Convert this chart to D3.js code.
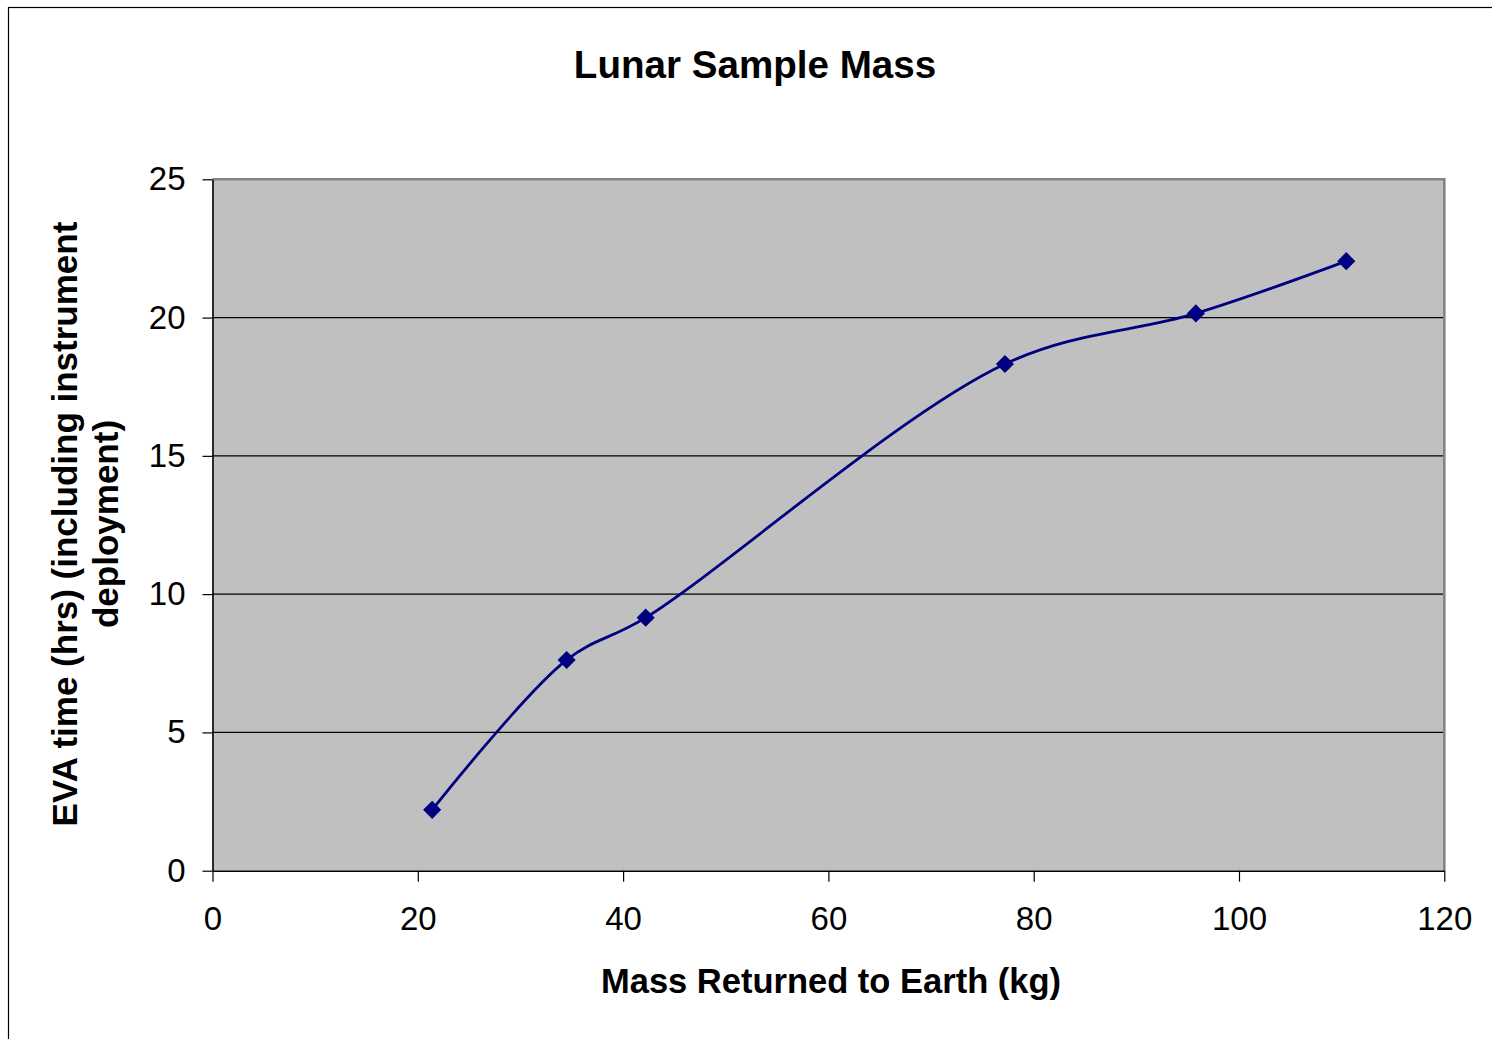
<!DOCTYPE html>
<html>
<head>
<meta charset="utf-8">
<script src="https://cdn.jsdelivr.net/npm/d3@7"></script>
<style>
  body { margin: 0; background: #fff; }
  svg { display: block; font-family: "Liberation Sans", Arial, sans-serif; }
</style>
</head>
<body>
<div id="chart"></div>
<script>
let w = 1492;
let h = 1039;
let plot = { left: 212.5, right: 1444.3, top: 179.3, bottom: 870.7 };

// Apollo missions: mass returned vs EVA time
const massKg = [21.4, 34.5, 42.2, 77.2, 95.8, 110.45];
const evaHrs = [2.2, 7.62, 9.15, 18.32, 20.15, 22.04];
const xTicks = [0, 20, 40, 60, 80, 100, 120];
const yTicks = [0, 5, 10, 15, 20, 25];

const points = massKg.map((m, i) => ({ x: m, y: evaHrs[i] }));

let svg = d3.select("#chart")
            .append("svg")
            .attr("width", w)
            .attr("height", h);

// outer chart frame (cut off at right and bottom)
svg.append("rect")
   .attr("x", 8.5)
   .attr("y", 7.5)
   .attr("width", w)
   .attr("height", h)
   .attr("fill", "none")
   .attr("stroke", "#000")
   .attr("stroke-width", 1.2);

let xScale = d3.scaleLinear([0, 120], [plot.left, plot.right]);
let yScale = d3.scaleLinear([0, 25], [plot.bottom, plot.top]);

// plot background
svg.append("rect")
   .attr("x", plot.left)
   .attr("y", plot.top)
   .attr("width", plot.right - plot.left)
   .attr("height", plot.bottom - plot.top)
   .attr("fill", "#c0c0c0");

// gridlines
svg.append("g")
   .selectAll("line")
   .data(yTicks.filter((t) => t > 0 && t < 25))
   .enter()
   .append("line")
   .attr("x1", plot.left)
   .attr("x2", plot.right)
   .attr("y1", (d) => yScale(d))
   .attr("y2", (d) => yScale(d))
   .attr("stroke", "#000")
   .attr("stroke-width", 1.2);

// grey border top and right
svg.append("path")
   .attr("d", `M${plot.left},${plot.top}H${plot.right}V${plot.bottom}`)
   .attr("fill", "none")
   .attr("stroke", "#848484")
   .attr("stroke-width", 2.6);

// axes
let xAxis = d3.axisBottom(xScale)
              .tickValues(xTicks)
              .tickSize(11)
              .tickPadding(25)
              .tickSizeOuter(0);

let yAxis = d3.axisLeft(yScale)
              .tickValues(yTicks)
              .tickSize(10)
              .tickPadding(17)
              .tickSizeOuter(0);

let gx = svg.append("g")
            .attr("transform", `translate(0,${plot.bottom})`)
            .call(xAxis);

let gy = svg.append("g")
            .attr("transform", `translate(${plot.left},0)`)
            .call(yAxis);

[gx, gy].forEach((g) => {
  g.select(".domain").attr("stroke", "#000").attr("stroke-width", 1.6);
  g.selectAll(".tick line").attr("stroke", "#000").attr("stroke-width", 1.2);
  g.selectAll(".tick text")
   .attr("fill", "#000")
   .style("font-family", '"Liberation Sans", Arial, sans-serif')
   .style("font-size", "33px");
});

// smoothed series line
let line = d3.line()
             .x((d) => xScale(d.x))
             .y((d) => yScale(d.y))
             .curve(d3.curveCatmullRom.alpha(0.5));

svg.append("path")
   .datum(points)
   .attr("d", line)
   .attr("fill", "none")
   .attr("stroke", "#000080")
   .attr("stroke-width", 2.8);

// diamond markers
svg.append("g")
   .selectAll("path")
   .data(points)
   .enter()
   .append("path")
   .attr("d", d3.symbol(d3.symbolSquare, 165))
   .attr("transform", (d) => `translate(${xScale(d.x)},${yScale(d.y)}) rotate(45)`)
   .attr("fill", "#000080");

// titles
svg.append("text")
   .attr("x", 755)
   .attr("y", 78)
   .attr("text-anchor", "middle")
   .style("font-size", "38.6px")
   .style("font-weight", "bold")
   .text("Lunar Sample Mass");

svg.append("text")
   .attr("x", 831)
   .attr("y", 993)
   .attr("text-anchor", "middle")
   .style("font-size", "34.5px")
   .style("font-weight", "bold")
   .text("Mass Returned to Earth (kg)");

let yTitle = svg.append("text")
                .attr("transform", "translate(77,524) rotate(-90)")
                .attr("text-anchor", "middle")
                .style("font-size", "35px")
                .style("font-weight", "bold");

yTitle.append("tspan").attr("x", 0).attr("y", 0).text("EVA time (hrs) (including instrument");
yTitle.append("tspan").attr("x", 0).attr("y", 41).text("deployment)");
</script>
</body>
</html>
